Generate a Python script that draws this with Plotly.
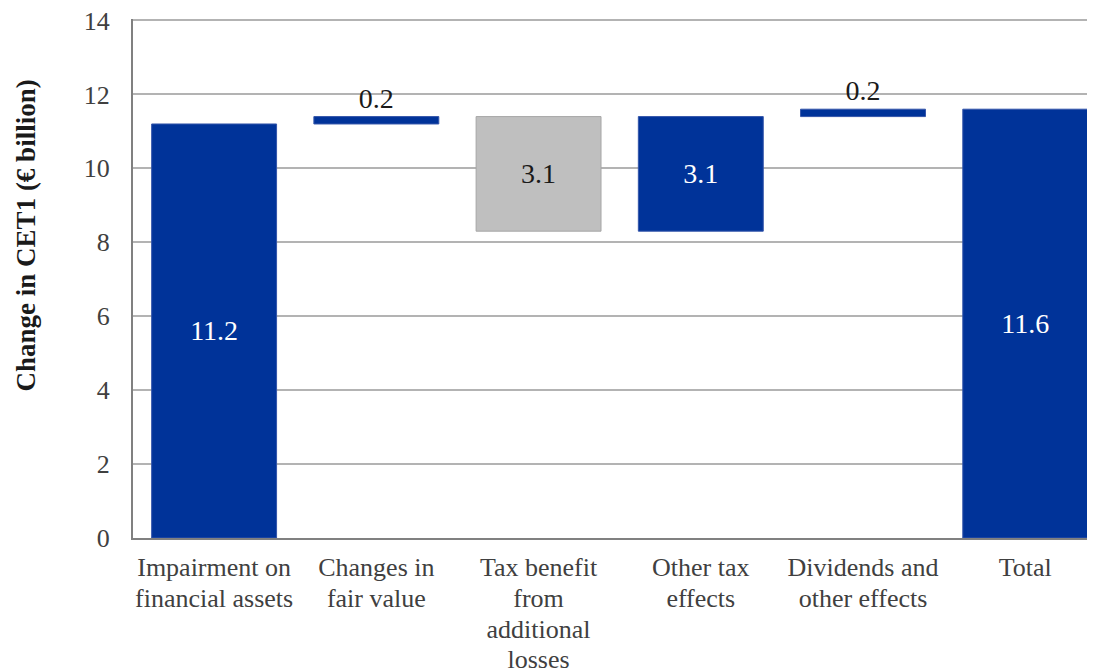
import plotly.graph_objects as go

category_lines = [["Impairment on", "financial assets"], ["Changes in", "fair value"],
                  ["Tax benefit", "from", "additional", "losses"], ["Other tax", "effects"],
                  ["Dividends and", "other effects"], ["Total"]]
values = [11.2, 0.2, 3.1, 3.1, 0.2, 11.6]
bases = [0.0, 11.2, 8.3, 8.3, 11.4, 0.0]
labels = ["11.2", "0.2", "3.1", "3.1", "0.2", "11.6"]
y_title = "Change in CET1 (€ billion)"

BLUE = "#003399"
GRAY = "#BFBFBF"
colors = [BLUE, BLUE, GRAY, BLUE, BLUE, BLUE]
line_colors = ["#3355AA", "#3355AA", "#A6A6A6", "#3355AA", "#3355AA", "#3355AA"]
text_pos = ["inside", "outside", "inside", "inside", "outside", "inside"]
inside_colors = ["white", "white", "#1a1a1a", "white", "white", "white"]

FS = 26
ticktext = ["<br>".join('<span style="font-size:%dpx">%s</span>' % (FS, ln) for ln in lines)
            for lines in category_lines]

xpos = list(range(len(category_lines)))

fig = go.Figure(go.Bar(
    x=xpos, y=values, base=bases,
    marker=dict(color=colors, line=dict(color=line_colors, width=1)),
    width=0.77,
    text=labels, textposition=text_pos,
    insidetextanchor="middle",
    insidetextfont=dict(color=inside_colors, size=28, family="Liberation Serif"),
    outsidetextfont=dict(color="#1a1a1a", size=28, family="Liberation Serif"),
    cliponaxis=False,
    hoverinfo="skip",
))

fig.add_annotation(
    text="<b>%s</b>" % y_title, textangle=-90,
    xref="paper", yref="paper", x=0, y=0.583,
    xanchor="center", yanchor="middle", xshift=-107,
    showarrow=False, font=dict(size=27, color="#1a1a1a", family="Liberation Serif"),
)

fig.update_layout(
    width=1087, height=663,
    margin=dict(l=125, r=0, t=10.5, b=133),
    plot_bgcolor="white", paper_bgcolor="white",
    font=dict(family="Liberation Serif", size=FS, color="#404040"),
    showlegend=False,
    xaxis=dict(
        tickmode="array", tickvals=xpos, ticktext=ticktext,
        range=[-0.5, 5.43],
        showgrid=False, zeroline=False, automargin=False,
        showline=True, linecolor="#808080", linewidth=2,
        ticks="", tickfont=dict(size=23.6, color="#404040"),
        ticklabelstandoff=8, ticklabeloverflow="allow",
    ),
    yaxis=dict(
        range=[0, 14.04], dtick=2, tick0=0, automargin=False,
        showgrid=True, gridcolor="#B3B3B3", gridwidth=1.5,
        zeroline=False,
        showline=True, linecolor="#808080", linewidth=2,
        ticks="", tickfont=dict(size=FS, color="#404040"),
        ticklabelstandoff=16, ticklabeloverflow="allow",
    ),
)

fig.write_html("out.html")
